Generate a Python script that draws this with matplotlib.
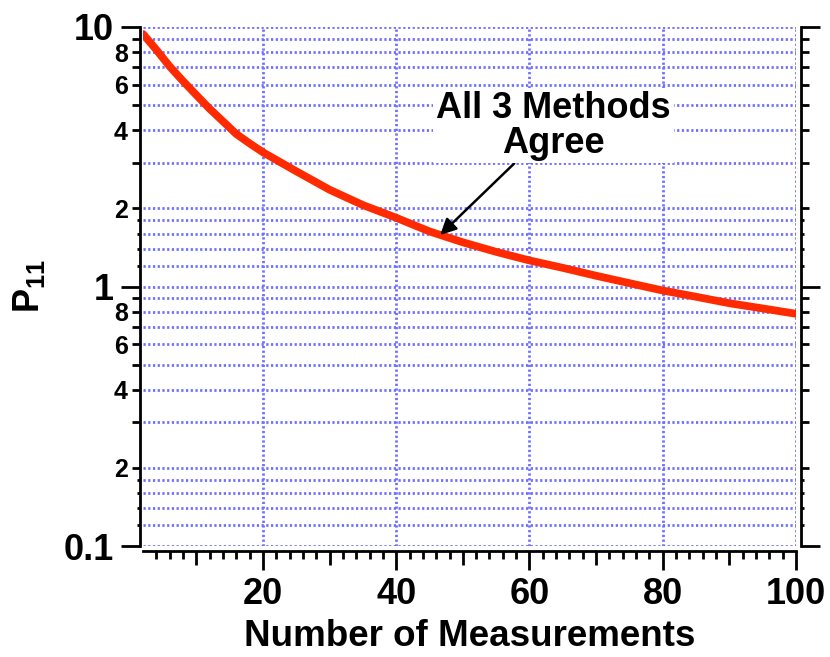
import numpy as np
import matplotlib
matplotlib.use("Agg")
import matplotlib.pyplot as plt
import matplotlib.ticker as ticker

plt.rcParams["font.family"] = ["Liberation Sans", "DejaVu Sans"]
plt.rcParams["font.weight"] = "bold"
plt.rcParams["mathtext.fontset"] = "custom"
plt.rcParams["mathtext.rm"] = "Liberation Sans:bold"
plt.rcParams["mathtext.bf"] = "Liberation Sans:bold"
plt.rcParams["mathtext.it"] = "Liberation Sans:bold"

# values
n_meas = [2, 4, 6, 8, 10, 12, 14, 16, 18, 20, 25, 30, 35, 40, 45, 50,
          55, 60, 65, 70, 75, 80, 85, 90, 95, 100]
p11 = [9.4, 8.17, 7.05, 6.19, 5.47, 4.84, 4.33, 3.87, 3.56, 3.29, 2.78, 2.36,
       2.06, 1.84, 1.63, 1.48, 1.36, 1.26, 1.18, 1.10, 1.03, 0.965, 0.913,
       0.862, 0.823, 0.785]

x_major = [20, 40, 60, 80, 100]
x_mid = [10, 30, 50, 70, 90]
x_small = [v for v in range(4, 100, 2) if v % 10 != 0]

decades = [0.1, 1.0]
y_major = [0.1, 1, 10]
y_minor = [d * m for d in decades for m in range(2, 10)]
y_small = [d * m for d in decades for m in (1.2, 1.4, 1.6, 1.8)]

annot_text = "All 3 Methods\nAgree"
annot_tip = (46.6, 1.58)
annot_pos = (63.6, 4.17)

grid_color = "#7070ff"
grid_style = dict(color=grid_color, linestyle=(0, (0.8, 0.9)), linewidth=2)
line_color = "#ff2a00"

fig = plt.figure(figsize=(8.3, 6.57), dpi=100)
ax = fig.add_axes([143 / 830, 1 - 546 / 657, (796 - 143) / 830, (546 - 27) / 657])

ax.plot(n_meas, p11, color=line_color, linewidth=5.6, solid_capstyle="round",
        zorder=3)

ax.set_yscale("log")
ax.set_xlim(2, 100)
ax.set_ylim(0.1, 10)

# spines
ax.spines["top"].set_visible(False)
ax.spines["left"].set_position(("outward", 2))
ax.spines["bottom"].set_position(("outward", 3.5))
ax.spines["right"].set_position(("outward", 3.5))
for s in ("left", "bottom", "right"):
    ax.spines[s].set_linewidth(2)

# x ticks
ax.xaxis.set_major_locator(ticker.FixedLocator(x_major))
ax.xaxis.set_minor_locator(ticker.FixedLocator(x_mid))
ax.xaxis.set_minor_formatter(ticker.NullFormatter())
ax.tick_params(axis="x", which="major", length=14, width=2, labelsize=26, pad=5)
ax.tick_params(axis="x", which="minor", length=10, width=2)

# y ticks
ax.yaxis.set_major_locator(ticker.FixedLocator(y_major))
ax.yaxis.set_major_formatter(ticker.FuncFormatter(lambda v, pos: f"{v:g}"))
ax.yaxis.set_minor_locator(ticker.FixedLocator(y_minor))


def minor_label(v, pos):
    m = int(round(v / 10 ** np.floor(np.log10(v) + 1e-9)))
    return str(m) if m % 2 == 0 else ""


ax.yaxis.set_minor_formatter(ticker.FuncFormatter(minor_label))
ax.tick_params(axis="y", which="both", left=True, right=True, width=2)
ax.tick_params(axis="y", which="major", length=14, labelsize=26, pad=5)
ax.tick_params(axis="y", which="minor", length=6, labelsize=18, pad=3)

# smallest ticks on secondary axes
for side in ("left", "right"):
    sec = ax.secondary_yaxis(side)
    sec.spines[side].set_position(("outward", 2 if side == "left" else 3.5))
    sec.spines[side].set_visible(False)
    sec.yaxis.set_major_locator(ticker.FixedLocator(y_small))
    sec.yaxis.set_minor_locator(ticker.NullLocator())
    sec.yaxis.set_major_formatter(ticker.NullFormatter())
    sec.tick_params(axis="y", length=2.5, width=2)

secx = ax.secondary_xaxis("bottom")
secx.spines["bottom"].set_position(("outward", 3.5))
secx.spines["bottom"].set_visible(False)
secx.xaxis.set_major_locator(ticker.FixedLocator(x_small))
secx.xaxis.set_minor_locator(ticker.NullLocator())
secx.xaxis.set_major_formatter(ticker.NullFormatter())
secx.tick_params(axis="x", length=6, width=2)

# grid
ax.set_axisbelow(True)
ax.grid(axis="x", which="major", **grid_style)
ax.grid(axis="y", which="both", **grid_style)
for v in y_small:
    ax.axhline(v, zorder=0.5, **grid_style)

ax.set_xlabel("Number of Measurements", fontsize=26.5, fontweight="bold",
              labelpad=5)
ax.set_ylabel(r"$\mathbf{P_{11}}$", fontsize=26, labelpad=12)

ax.annotate(annot_text, xy=annot_tip, xytext=annot_pos, ha="center",
            va="center", fontsize=26, fontweight="bold", linespacing=1.0,
            bbox=dict(boxstyle="square,pad=0.08", fc="white", ec="none"),
            arrowprops=dict(arrowstyle="-|>", color="black", lw=1.8,
                            mutation_scale=24, shrinkA=0, shrinkB=0),
            zorder=4)

fig.savefig("out.png", dpi=100)
